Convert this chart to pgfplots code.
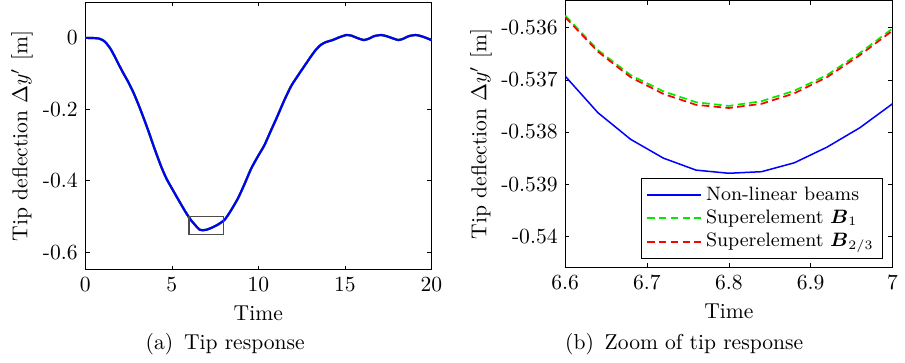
\documentclass[border=0pt]{standalone}
\usepackage{amsmath}
\usepackage{pgfplots}
\pgfplotsset{compat=1.18}
\definecolor{mygreen}{rgb}{0,0.92,0}
\definecolor{myred}{rgb}{1,0,0}
\definecolor{myblue}{rgb}{0,0,1}
\pgfplotstableread{
t y
0 0
0.5 -0.0005
0.8 -0.002
1.0 -0.006
1.2 -0.014
1.45 -0.03
1.7 -0.052
1.95 -0.076
2.2 -0.099
2.5 -0.125
2.8 -0.155
3.1 -0.19
3.4 -0.228
3.7 -0.268
4.0 -0.31
4.4 -0.362
4.7 -0.395
5.0 -0.421
5.4 -0.455
5.8 -0.488
6.1 -0.51
6.4 -0.527
6.6 -0.5369
6.8 -0.5388
7.0 -0.5375
7.3 -0.532
7.7 -0.522
8.06 -0.509
8.4 -0.485
8.83 -0.449
9.2 -0.41
9.59 -0.366
10.0 -0.33
10.35 -0.301
10.7 -0.263
11.1 -0.22
11.5 -0.175
11.9 -0.135
12.3 -0.105
12.65 -0.08
13.0 -0.055
13.3 -0.035
13.6 -0.02
13.9 -0.012
14.3 -0.006
14.7 0.002
15.1 0.008
15.4 0.006
15.7 0.0
16.1 -0.006
16.4 -0.002
16.7 0.005
17.1 0.008
17.4 0.005
17.7 0.0
18.1 -0.006
18.4 -0.002
18.7 0.005
19.1 0.008
19.4 0.005
19.7 0.0
20.0 -0.006
}\fulldata
\pgfplotstableread{
t nl b1 b23
6.60 -0.53693 -0.53577 -0.53580
6.64 -0.53763 -0.53643 -0.53646
6.68 -0.53814 -0.53691 -0.53695
6.72 -0.53850 -0.53722 -0.53727
6.76 -0.53873 -0.53743 -0.53748
6.80 -0.53879 -0.53750 -0.53754
6.84 -0.53876 -0.53741 -0.53746
6.88 -0.53859 -0.53721 -0.53726
6.92 -0.53829 -0.53691 -0.53695
6.96 -0.53792 -0.53649 -0.53653
7.00 -0.53746 -0.53602 -0.53606
}\zoomdata
\begin{document}
\begin{tikzpicture}
\pgfplotsset{every axis/.append style={
  scale only axis, tick align=inside, major tick length=2pt,
  tick style={black}}}
\begin{axis}[at={(0pt,0pt)}, anchor=south west,
  width=160.5pt, height=124.2pt,
  xmin=0, xmax=20, ymin=-0.65, ymax=0.1,
  xtick={0,5,10,15,20}, xticklabels={0,5,10,15,20},
  ytick={-0.6,-0.4,-0.2,0}, yticklabels={-0.6,-0.4,-0.2,0},
  xlabel={Time}, ylabel={Tip deflection $\Delta y'$ [m]},
  ylabel style={at={(axis description cs:-0.183,0.5)}, anchor=center},
  xlabel style={at={(axis description cs:0.5,0)}, anchor=center, yshift=-20pt}]
\addplot[myred, line width=1pt, smooth, tension=0.4] table[x=t,y=y]{\fulldata};
\addplot[mygreen, line width=1pt, smooth, tension=0.4] table[x=t,y=y]{\fulldata};
\addplot[myblue, line width=1pt, smooth, tension=0.4] table[x=t,y=y]{\fulldata};
\draw[black!70, line width=0.6pt] (axis cs:6,-0.55) rectangle (axis cs:8,-0.5);
\end{axis}
\begin{axis}[at={(222.6pt,1pt)}, anchor=south west,
  width=151.8pt, height=124pt,
  xmin=6.6, xmax=7, ymin=-0.5406, ymax=-0.53548,
  xtick={6.6,6.7,6.8,6.9,7}, xticklabels={6.6,6.7,6.8,6.9,7},
  ytick={-0.54,-0.539,-0.538,-0.537,-0.536},
  yticklabels={-0.54,-0.539,-0.538,-0.537,-0.536},
  xlabel={Time}, ylabel={Tip deflection $\Delta y'$ [m]},
  ylabel style={at={(axis description cs:-0.257,0.5)}, anchor=center},
  xlabel style={at={(axis description cs:0.5,0)}, anchor=center, yshift=-20pt},
  legend cell align=left,
  legend style={at={(0.97,0.032)}, anchor=south east, draw=black, fill=white,
    font=\small, row sep=-1pt, inner sep=2pt},
  legend image code/.code={\draw[mark repeat=2,mark phase=2,#1] plot coordinates {(0pt,0pt) (25pt,0pt)};}]
\addplot[color=myblue, line width=0.7pt] table[x=t,y=nl]{\zoomdata};
\addlegendentry{Non-linear beams}
\addplot[color=mygreen, line width=0.8pt, dash pattern=on 3.5pt off 2pt] table[x=t,y=b1]{\zoomdata};
\addlegendentry{Superelement $\boldsymbol{B}_1$}
\addplot[color=myred, line width=0.8pt, dash pattern=on 3.5pt off 2pt] table[x=t,y=b23]{\zoomdata};
\addlegendentry{Superelement $\boldsymbol{B}_{2/3}$}
\end{axis}
\node at (64.9pt,-34.5pt) {(a)\enspace Tip response};
\node at (277.8pt,-34.5pt) {(b)\enspace Zoom of tip response};
\path (-39.56pt,-42.8pt) rectangle (376.7pt,125.1pt);
\end{tikzpicture}
\end{document}
